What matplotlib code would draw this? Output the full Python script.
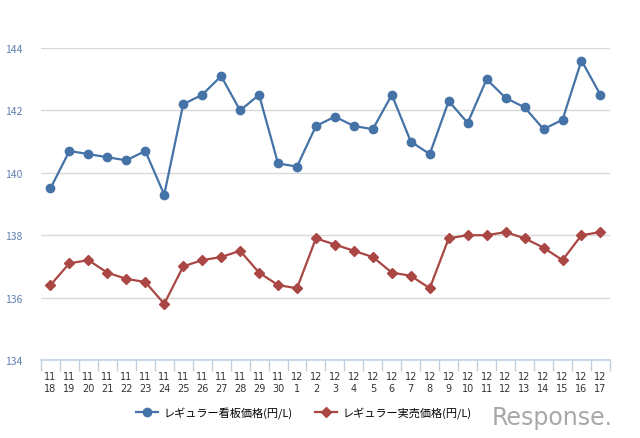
import matplotlib.pyplot as plt
import numpy as np

plt.rcParams['font.family'] = ['Noto Sans CJK JP', 'DejaVu Sans']

# dates (month, day)
months = ['11'] * 13 + ['12'] * 17
days = ['18', '19', '20', '21', '22', '23', '24', '25', '26', '27', '28', '29', '30',
        '1', '2', '3', '4', '5', '6', '7', '8', '9', '10', '11', '12', '13', '14', '15', '16', '17']

# prices (yen / L)
kanban = [139.5, 140.7, 140.6, 140.5, 140.4, 140.7, 139.3, 142.2, 142.5, 143.1,
          142.0, 142.5, 140.3, 140.2, 141.5, 141.8, 141.5, 141.4, 142.5, 141.0,
          140.6, 142.3, 141.6, 143.0, 142.4, 142.1, 141.4, 141.7, 143.6, 142.5]
jitsubai = [136.4, 137.1, 137.2, 136.8, 136.6, 136.5, 135.8, 137.0, 137.2, 137.3,
            137.5, 136.8, 136.4, 136.3, 137.9, 137.7, 137.5, 137.3, 136.8, 136.7,
            136.3, 137.9, 138.0, 138.0, 138.1, 137.9, 137.6, 137.2, 138.0, 138.1]
yticks = [134, 136, 138, 140, 142, 144]
labels = ['レギュラー看板価格(円/L)', 'レギュラー実売価格(円/L)']

fig = plt.figure(figsize=(6.4, 4.39), dpi=100)
ax = fig.add_axes([0.064, 0.1777, 0.889, 0.7106])

x = np.arange(len(days))
ax.plot(x, kanban, color='#4572A7', lw=1.6, marker='o', ms=6, label=labels[0])
ax.plot(x, jitsubai, color='#AA4643', lw=1.6, marker='D', ms=4.8, label=labels[1])

ax.set_xlim(-0.5, len(days) - 0.5)
ax.set_ylim(134, 144)
ax.set_yticks(yticks)
ax.set_yticklabels([str(v) for v in yticks])
ax.yaxis.grid(True, color='#D8D8D8', lw=1)
ax.set_axisbelow(True)
ax.tick_params(axis='y', length=0, pad=13, labelsize=7.5, labelcolor='#6080B0')

# x ticks at band edges, labels centered under points
ax.set_xticks(np.arange(len(days) + 1) - 0.5)
ax.set_xticklabels([])
ax.tick_params(axis='x', length=8, width=1, color='#C0D0E0')
for i in range(len(days)):
    ax.text(i, 133.65, months[i] + '\n' + days[i], ha='center', va='top',
            fontsize=7, color='#333333', linespacing=1.3,
            family=['DejaVu Sans'])

for s in ['top', 'right', 'left']:
    ax.spines[s].set_visible(False)
ax.spines['bottom'].set_color('#C0D0E0')
ax.spines['bottom'].set_linewidth(1.2)

fig.legend(loc='center', bbox_to_anchor=(0.475, 0.059), ncol=2, frameon=False,
           fontsize=8, handlelength=2.0, columnspacing=2.0, handletextpad=0.5)

fig.text(0.958, 0.048, 'Response.', ha='right', va='center', fontsize=17,
         color='#A8A8A8', family=['DejaVu Sans'])

fig.savefig('out.png', dpi=100)
